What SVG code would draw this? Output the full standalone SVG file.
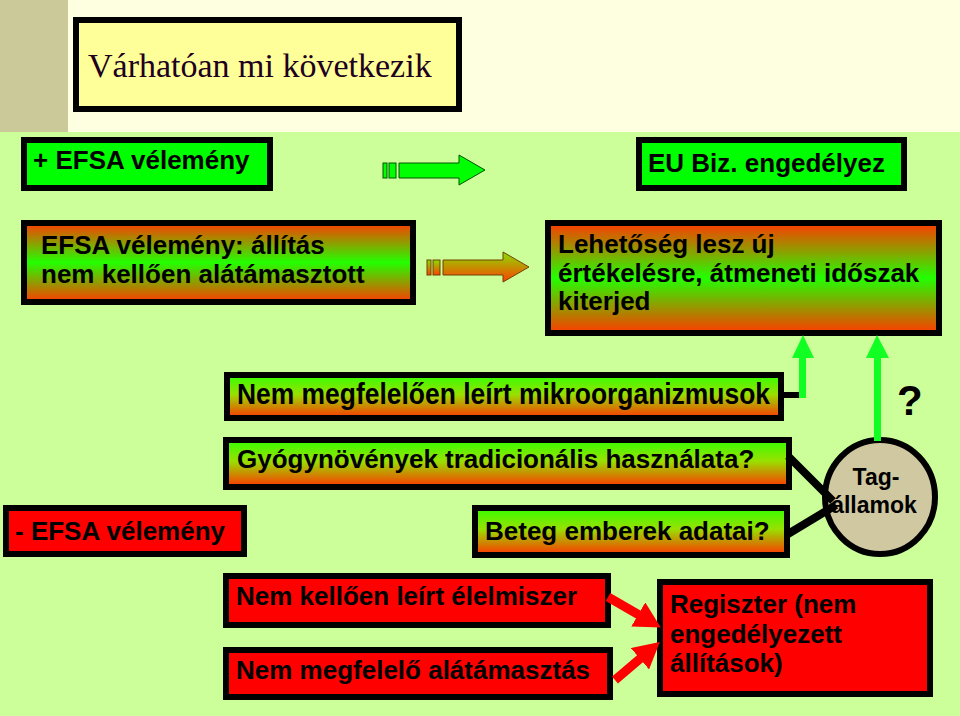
<svg xmlns="http://www.w3.org/2000/svg" width="960" height="716" viewBox="0 0 960 716">
<style>
.box{stroke:#000;stroke-width:6}
.t{font-family:"Liberation Sans",Arial,sans-serif;font-weight:bold;font-size:26px;fill:#000}
.green{fill:#00FF00}
.red{fill:#FF0000}
.conn{stroke:#000;stroke-width:8;fill:none}
.upshaft{fill:#11FF22}
</style>
<defs>
<linearGradient id="gOGO" x1="0" y1="0" x2="0" y2="1">
<stop offset="0" stop-color="#FF3A00"/>
<stop offset="0.5" stop-color="#22FF00"/>
<stop offset="1" stop-color="#FF3A00"/>
</linearGradient>
<linearGradient id="gGO" x1="0" y1="0" x2="0" y2="1">
<stop offset="0" stop-color="#33FF00"/>
<stop offset="0.45" stop-color="#99E000"/>
<stop offset="1" stop-color="#FF3300"/>
</linearGradient>
<linearGradient id="gArrow" x1="0" y1="0" x2="0" y2="1">
<stop offset="0" stop-color="#88E000"/>
<stop offset="1" stop-color="#FF4000"/>
</linearGradient>
<marker id="redHead" markerUnits="userSpaceOnUse" markerWidth="26" markerHeight="28" viewBox="0 0 26 28" refX="2" refY="14" orient="auto">
<path d="M0,0 L26,14 L0,28 z" fill="#FF0000"/>
</marker>
</defs>

<!-- background -->
<rect x="0" y="0" width="960" height="716" fill="#CCFF99"/>
<rect x="0" y="0" width="960" height="132" fill="#FEFEE0"/>
<rect x="0" y="0" width="68" height="132" fill="#CBC89A"/>

<g id="title">
<rect class="box" x="76" y="20" width="383" height="89" fill="#FFFF99"/>
<text x="88" y="77" font-family="'Liberation Serif','Times New Roman',serif" font-size="34" fill="#200020">Várhatóan mi következik</text>
</g>

<g id="plus-efsa">
<rect class="box green" x="24" y="140" width="246" height="48"/>
<text class="t" x="33" y="169">+ EFSA vélemény</text>
</g>

<g id="eu-biz">
<rect class="box green" x="639" y="140" width="265" height="48"/>
<text class="t" x="648" y="172">EU Biz. engedélyez</text>
</g>

<g id="efsa-allitas">
<rect class="box" x="24" y="223" width="389" height="79" fill="url(#gOGO)"/>
<text class="t" x="41" y="254">EFSA vélemény: állítás</text>
<text class="t" x="41" y="283">nem kellően alátámasztott</text>
</g>

<g id="lehetoseg">
<rect class="box" x="548" y="223" width="391" height="110" fill="url(#gOGO)"/>
<text class="t" x="558" y="253">Lehetőség lesz új</text>
<text class="t" x="558" y="282">értékelésre, átmeneti időszak</text>
<text class="t" x="558" y="310">kiterjed</text>
</g>

<g id="mikro">
<rect class="box" x="227" y="375" width="554" height="43" fill="url(#gGO)"/>
<text class="t" x="237" y="404" font-size="30" style="font-size:30px" textLength="533" lengthAdjust="spacingAndGlyphs">Nem megfelelően leírt mikroorganizmusok</text>
</g>

<g id="gyogy">
<rect class="box" x="226" y="440" width="563" height="47" fill="url(#gGO)"/>
<text class="t" x="237" y="468">Gyógynövények tradicionális használata?</text>
</g>

<g id="minus-efsa">
<rect class="box red" x="6" y="508" width="238" height="46"/>
<text class="t" x="15" y="540">- EFSA vélemény</text>
</g>

<g id="beteg">
<rect class="box" x="475" y="508" width="312" height="47" fill="url(#gGO)"/>
<text class="t" x="485" y="540">Beteg emberek adatai?</text>
</g>

<g id="nem-kelloen">
<rect class="box red" x="226" y="576" width="382" height="49"/>
<text class="t" x="236" y="605">Nem kellően leírt élelmiszer</text>
</g>

<g id="nem-megfelelo">
<rect class="box red" x="226" y="650" width="384" height="47"/>
<text class="t" x="236" y="679">Nem megfelelő alátámasztás</text>
</g>

<g id="regiszter">
<rect class="box red" x="660" y="582" width="270" height="112"/>
<text class="t" x="670" y="613">Regiszter (nem</text>
<text class="t" x="670" y="643">engedélyezett</text>
<text class="t" x="670" y="672">állítások)</text>
</g>

<g id="tagallamok">
<ellipse cx="880" cy="497" rx="55" ry="57" fill="#CFC8A0" stroke="#000" stroke-width="6"/>
<text class="t" x="876" y="485" text-anchor="middle" style="font-size:23px">Tag-</text>
<text class="t" x="874" y="513" text-anchor="middle" style="font-size:23px">államok</text>
</g>

<g id="question">
<text class="t" x="897" y="415" style="font-size:42px">?</text>
</g>

<g id="connectors">
<!-- green horizontal arrow -->
<g fill="#00FF00" stroke="#005500" stroke-width="1">
<rect x="383" y="163" width="4" height="15"/>
<rect x="389" y="163" width="7" height="15"/>
<path d="M399,163 L459,163 L459,155 L485,170 L459,185 L459,178 L399,178 z"/>
</g>
<!-- orange horizontal arrow -->
<g fill="url(#gArrow)" stroke="#704000" stroke-width="1">
<rect x="427" y="260" width="4" height="15"/>
<rect x="433" y="260" width="7" height="15"/>
<path d="M443,260 L503,260 L503,252 L529,267 L503,282 L503,275 L443,275 z"/>
</g>
<!-- stub from mikro box -->
<line x1="783" y1="395" x2="802" y2="395" stroke="#000" stroke-width="6"/>
<!-- green up arrows -->
<path class="upshaft" d="M799,398 L806,398 L806,358 L814,358 L803,335 L792,358 L799,358 z"/>
<path class="upshaft" d="M874,441 L881,441 L881,358 L889,358 L877,335 L866,358 L874,358 z"/>
<!-- black connectors to circle -->
<line class="conn" x1="788" y1="456" x2="833" y2="501"/>
<line class="conn" x1="788" y1="534" x2="836" y2="505"/>
<!-- red arrows -->
<line x1="608" y1="597" x2="640" y2="615.5" stroke="#FF0000" stroke-width="9" marker-end="url(#redHead)"/>
<line x1="615" y1="680" x2="641.5" y2="657.5" stroke="#FF0000" stroke-width="9" marker-end="url(#redHead)"/>
</g>
</svg>
